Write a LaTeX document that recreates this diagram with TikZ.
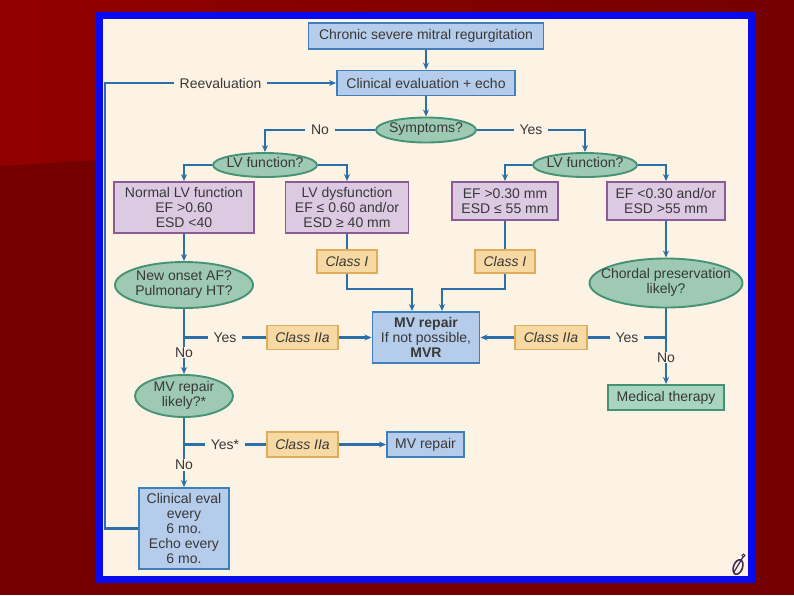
\documentclass[tikz,border=0pt]{standalone}
\usepackage{fontspec}
\setmainfont{Liberation Sans}
\usetikzlibrary{arrows.meta,shapes.geometric}
\definecolor{bgdark}{HTML}{740000}
\definecolor{bglight}{HTML}{930000}
\definecolor{framecol}{HTML}{0A0AF0}
\definecolor{cream}{HTML}{FDF3E4}
\definecolor{linecol}{HTML}{2C6FA8}
\definecolor{txtcol}{HTML}{383838}
\definecolor{bluefill}{HTML}{B5CDEA}
\definecolor{blueedge}{HTML}{3F80BA}
\definecolor{purpfill}{HTML}{DCCAE3}
\definecolor{purpedge}{HTML}{8C5A95}
\definecolor{greenfill}{HTML}{9ECAB4}
\definecolor{greenedge}{HTML}{459275}
\definecolor{medfill}{HTML}{A9D4BE}
\definecolor{classfill}{HTML}{F7D9A4}
\definecolor{classedge}{HTML}{DFAE5C}
\definecolor{logocol}{HTML}{3B2A55}
\newcommand{\ellbox}[1]{\makebox[0pt]{\begin{tabular}{@{}c@{}}#1\end{tabular}}}

\begin{document}
\begin{tikzpicture}[x=1pt, y=-1pt, >={Stealth[length=7pt,width=6pt]},
  every node/.style={font=\fontsize{14}{14.8}\selectfont, text=txtcol},
  base/.style={draw, line width=1.9pt, inner sep=2pt, align=center},
  bluebox/.style={base, fill=bluefill, draw=blueedge},
  purpbox/.style={base, fill=purpfill, draw=purpedge},
  decide/.style={base, ellipse, inner sep=0pt, fill=greenfill, draw=greenedge},
  classbox/.style={base, fill=classfill, draw=classedge, font=\fontsize{14}{14.8}\selectfont\itshape},
  medbox/.style={base, fill=medfill, draw=greenedge},
  lbl/.style={fill=cream, inner xsep=6pt, inner ysep=1pt},
  link/.style={draw=linecol, line width=2.2pt}]
  \useasboundingbox (0,0) rectangle (794,595);
  \fill[bgdark] (0,0) rectangle (794,595);
  \shade[left color=bglight, right color=bgdark] (0,0) -- (794,0) -- (794,12) -- (96,160) -- (0,166) -- cycle;
  \draw[framecol, line width=7pt, fill=cream] (99.5,15.5) rectangle (751.5,579.5);

  \node[bluebox, minimum width=235pt, minimum height=26pt] (chronic) at (426,36) {Chronic severe mitral regurgitation};
  \node[bluebox, minimum width=178pt, minimum height=25pt] (clineval) at (426,83) {Clinical evaluation + echo};
  \node[decide, minimum width=100pt, minimum height=25pt] (symp) at (426,130) {\ellbox{Symptoms?}};
  \node[decide, minimum width=104pt, minimum height=24pt] (lvL) at (265,165) {\ellbox{LV function?}};
  \node[decide, minimum width=104pt, minimum height=24pt] (lvR) at (585,165) {\ellbox{LV function?}};
  \node[purpbox, minimum width=140pt, minimum height=51pt] (normal) at (184,207.5) {Normal LV function\\EF >0.60\\ESD <40};
  \node[purpbox, minimum width=123pt, minimum height=51pt] (dysf) at (347,207.5) {LV dysfunction\\EF ≤ 0.60 and/or\\ESD ≥ 40 mm};
  \node[purpbox, minimum width=106pt, minimum height=38pt] (efhi) at (505,201) {EF >0.30 mm\\ESD ≤ 55 mm};
  \node[purpbox, minimum width=118pt, minimum height=38pt] (eflo) at (666,201) {EF <0.30 and/or\\ESD >55 mm};
  \node[classbox, minimum width=60pt, minimum height=23pt] (classIL) at (347,261.5) {Class I};
  \node[classbox, minimum width=60pt, minimum height=23pt] (classIR) at (505,261.5) {Class I};
  \node[decide, minimum width=138pt, minimum height=46pt] (afq) at (184,285) {\ellbox{New onset AF?\\Pulmonary HT?}};
  \node[decide, minimum width=153pt, minimum height=49pt] (chord) at (666,283) {\ellbox{Chordal preservation\\likely?}};
  \node[bluebox, minimum width=107pt, minimum height=51pt] (mvr) at (426,337.5) {\textbf{MV repair}\\If not possible,\\\textbf{MVR}};
  \node[classbox, minimum width=71pt, minimum height=24pt] (c2aL) at (302.5,337.5) {Class IIa};
  \node[classbox, minimum width=72pt, minimum height=24pt] (c2aR) at (551,337.5) {Class IIa};
  \node[decide, minimum width=98pt, minimum height=42pt] (mvq) at (184,396) {\ellbox{MV repair\\likely?*}};
  \node[medbox, minimum width=116pt, minimum height=25pt] (medth) at (666,397.5) {Medical therapy};
  \node[classbox, minimum width=71pt, minimum height=25pt] (c2aB) at (302.5,444.5) {Class IIa};
  \node[bluebox, minimum width=77pt, minimum height=25pt] (mvrep) at (425.5,444.5) {MV repair};
  \node[bluebox, minimum width=90pt, minimum height=81pt] (follow) at (184,528.5) {Clinical eval\\every\\6 mo.\\Echo every\\6 mo.};

  \coordinate (mid) at (0,289);
  \coordinate (back) at (105,0);
  \draw[link,->] (chronic) -- (clineval);
  \draw[link,->] (clineval) -- (symp);
  \draw[link,->] (symp.west) -| node[lbl, pos=0.25]{No} (lvL.north);
  \draw[link,->] (symp.east) -| node[lbl, pos=0.25]{Yes} (lvR.north);
  \draw[link,->] (lvL.west) -| (normal.north);
  \draw[link,->] (lvL.east) -| (dysf.north);
  \draw[link,->] (lvR.west) -| (efhi.north);
  \draw[link,->] (lvR.east) -| (eflo.north);
  \draw[link,->] (normal) -- (afq);
  \draw[link] (dysf) -- (classIL);
  \draw[link] (efhi) -- (classIR);
  \draw[link,->] (eflo) -- (chord);
  \draw[link,->] (classIL.south) -- (classIL.south |- mid) -| ([xshift=-14pt]mvr.north);
  \draw[link,->] (classIR.south) -- (classIR.south |- mid) -| ([xshift=16pt]mvr.north);
  \draw[link,->] (afq.south) -- node[lbl, pos=0.67]{No} (mvq.north);
  \draw[link] (afq.south |- c2aL) -- node[lbl]{Yes} (c2aL.west);
  \draw[link,->] (c2aL.east) -- (mvr.west);
  \draw[link,->] (chord.south) -- node[lbl, pos=0.65]{No} (medth.north);
  \draw[link] (chord.south |- c2aR) -- node[lbl]{Yes} (c2aR.east);
  \draw[link,->] (c2aR.west) -- (mvr.east);
  \draw[link,->] (mvq.south) -- node[lbl, pos=0.68]{No} (follow.north);
  \draw[link] (mvq.south |- c2aB) -- node[lbl]{Yes*} (c2aB.west);
  \draw[link,->] (c2aB.east) -- (mvrep.west);
  \draw[link,->] (follow.west) -- (follow.west -| back) |- node[lbl, pos=0.75]{Reevaluation} (clineval.west);

  \draw[logocol, line width=1.6pt, rotate around={-20:(738,567)}] (738,567) ellipse (4.5pt and 7.5pt);
  \draw[logocol, line width=1.2pt] (734,572) -- (743,557);
  \draw[logocol, line width=1pt] (743.5,555.5) circle (1.5pt);
\end{tikzpicture}
\end{document}
